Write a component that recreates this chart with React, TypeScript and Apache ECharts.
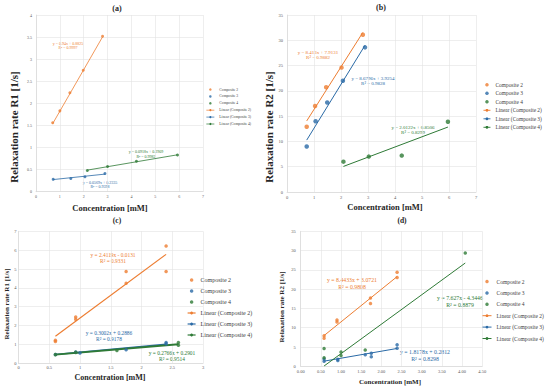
import React, { useEffect, useRef } from "react";
import * as echarts from "echarts";

// ---------- DATA ----------
const SCATTER_NAMES = ["Composite 2", "Composite 3", "Composite 4"];
const LINEAR_NAMES = ["Linear (Composite 2)", "Linear (Composite 3)", "Linear (Composite 4)"];

// Panel (a) – R1
const a2X = [0.7, 1.0, 1.42, 1.98, 2.79];
const a2Y = [1.56, 1.83, 2.24, 2.75, 3.52];
const a3X = [0.72, 1.46, 2.05, 2.89];
const a3Y = [0.28, 0.3, 0.34, 0.41];
const a4X = [2.15, 3.0, 4.21, 5.93];
const a4Y = [0.48, 0.57, 0.69, 0.83];
const aSlope = [0.94, 0.0569, 0.0918];
const aIntercept = [0.8825, 0.2335, 0.2909];
const aEq = ["y = 0.94x + 0.8825", "y = 0.0569x + 0.2335", "y = 0.0918x + 0.2909"];
const aR2 = ["R² = 0.9997", "R² = 0.9398", "R² = 0.9982"];

// Panel (b) – R2
const b2X = [0.73, 1.04, 1.45, 2.02, 2.81];
const b2Y = [12.9, 17.0, 20.7, 24.6, 31.1];
const b3X = [0.73, 1.06, 1.49, 2.07, 2.89];
const b3Y = [9.0, 14.0, 17.7, 22.0, 28.6];
const b4X = [2.09, 3.03, 4.25, 5.96];
const b4Y = [6.0, 7.0, 7.2, 13.9];
const bSlope = [8.413, 8.6796, 2.0122];
const bIntercept = [7.9131, 3.9254, 0.8506];
const bEq = ["y = 8.413x + 7.9131", "y = 8.6796x + 3.9254", "y = 2.0122x + 0.8506"];
const bR2 = ["R² = 0.9882", "R² = 0.9828", "R² = 0.8299"];

// Panel (c) – R1
const c2X = [0.6, 0.6, 0.93, 0.93, 1.75, 1.75, 2.4, 2.4];
const c2Y = [1.22, 1.16, 2.45, 2.33, 4.87, 4.25, 6.22, 4.87];
const c3X = [0.6, 0.93, 1.0, 1.75, 2.4, 2.4];
const c3Y = [0.47, 0.6, 0.55, 0.72, 1.1, 1.03];
const c4X = [0.6, 0.93, 1.6, 2.6, 2.6];
const c4Y = [0.46, 0.58, 0.68, 1.1, 0.96];
const cSlope = [2.4119, 0.3002, 0.2766];
const cIntercept = [-0.0131, 0.2886, 0.2901];
const cEq = ["y = 2.4119x - 0.0131", "y = 0.3002x + 0.2886", "y = 0.2766x + 0.2901"];
const cR2 = ["R² = 0.9331", "R² = 0.9178", "R² = 0.9514"];

// Panel (d) – R2
const d2X = [0.58, 0.58, 0.9, 0.9, 1.73, 1.73, 2.39, 2.39];
const d2Y = [7.9, 7.3, 12.0, 11.5, 17.7, 16.3, 24.4, 23.0];
const d3X = [0.58, 0.58, 0.92, 0.92, 1.6, 1.75, 1.75, 2.39, 2.39];
const d3Y = [1.9, 1.3, 1.8, 1.5, 3.0, 3.4, 2.5, 5.6, 4.7];
const d4X = [0.58, 0.58, 1.0, 1.0, 1.6, 4.08];
const d4Y = [4.6, 2.2, 3.7, 2.8, 4.2, 29.4];
const dSlope = [8.4433, 1.8178, 7.627];
const dIntercept = [3.0721, 0.2812, -4.3446];
const dEq = ["y = 8.4433x + 3.0721", "y = 1.8178x + 0.2812", "y = 7.627x - 4.3446"];
const dR2 = ["R² = 0.9808", "R² = 0.8298", "R² = 0.8879"];

const PANEL_TITLES = ["(a)", "(b)", "(c)", "(d)"];
const Y_TITLES = [
  "Relaxation rate R1 [1/s]",
  "Relaxation rate R2 [1/s]",
  "Relaxation rate R1 [1/s]",
  "Relaxation rate R2 [1/s]",
];
const X_TITLE = "Concentration [mM]";

// ---------- STYLE / LAYOUT ----------
const COLORS = ["#ED7D31", "#2A6AA6", "#2E7A36"];
const FONT = "'Liberation Serif', 'Times New Roman', serif";

const panels = [
  {
    xs: [a2X, a3X, a4X], ys: [a2Y, a3Y, a4Y], slope: aSlope, icpt: aIntercept, eq: aEq, r2: aR2,
    grid: { left: 36, top: 15, width: 167, height: 176.7 },
    x: { min: 0, max: 7, interval: 1 }, y: { min: 0, max: 4, interval: 0.5 },
    tick: 4, xMargin: 3, yMargin: 4, sym: 3, lw: [0.8, 0.8, 0.8],
    legend: { left: 206, top: 87.5, itemWidth: 8, itemHeight: 2.5, itemGap: 2.9, fontSize: 3.7, lw: 0.7 },
    eqFont: 4, eqPos: [[68, 43], [100, 182], [146, 151.5]],
    title: [117, 8, 8], yt: [14, 127, 11], xt: [110, 208, 8.5],
  },
  {
    xs: [b2X, b3X, b4X], ys: [b2Y, b3Y, b4Y], slope: bSlope, icpt: bIntercept, eq: bEq, r2: bR2,
    grid: { left: 287, top: 15, width: 189, height: 177 },
    x: { min: 0, max: 7, interval: 1 }, y: { min: 0, max: 35, interval: 5 },
    tick: 4.5, xMargin: 3, yMargin: 4, sym: 4.5, lw: [1, 1, 1],
    legend: { left: 483, top: 82.3, itemWidth: 7, itemHeight: 3.5, itemGap: 3.5, fontSize: 5.4, lw: 0.9 },
    eqFont: 5, eqPos: [[318, 52], [373, 78], [413, 127]],
    title: [381, 7, 8], yt: [269, 127, 11], xt: [385, 207, 8.5],
  },
  {
    xs: [c2X, c3X, c4X], ys: [c2Y, c3Y, c4Y], slope: cSlope, icpt: cIntercept, eq: cEq, r2: cR2,
    grid: { left: 18.5, top: 231.3, width: 184.5, height: 132 },
    x: { min: 0, max: 3, interval: 0.5 }, y: { min: 0, max: 7, interval: 1 },
    tick: 4.5, xMargin: 2, yMargin: 2, sym: 3.5, lw: [1.2, 1.4, 1.8],
    legend: { left: 187, top: 277, itemWidth: 8, itemHeight: 3.5, itemGap: 5, fontSize: 6, lw: 1.2 },
    eqFont: 5.4, eqPos: [[113, 255], [109, 333], [172, 353]],
    title: [117, 220, 7.5], yt: [7, 304, 7], xt: [110, 377, 8],
  },
  {
    xs: [d2X, d3X, d4X], ys: [d2Y, d3Y, d4Y], slope: dSlope, icpt: dIntercept, eq: dEq, r2: dR2,
    grid: { left: 300.7, top: 231.3, width: 181.5, height: 135 },
    x: { min: 0, max: 4.5, interval: 0.5, fixed: 2 }, y: { min: 0, max: 35, interval: 5 },
    tick: 4.5, xMargin: 2.5, yMargin: 5, sym: 3.5, lw: [1, 1, 1],
    legend: { left: 482, top: 278.5, itemWidth: 9, itemHeight: 3.5, itemGap: 5.4, fontSize: 5.5, lw: 1 },
    eqFont: 5.8, eqPos: [[352, 280], [425, 352], [460, 298]],
    title: [402, 220, 7.5], yt: [282, 307, 7], xt: [390, 382, 7],
  },
];

function text(str: string, x: number, y: number, size: number, color: string, bold: boolean, rotate = 0) {
  return {
    type: "text",
    x, y, rotation: rotate,
    silent: true,
    style: {
      text: str, fontSize: size, fontFamily: FONT, fontWeight: bold ? "bold" : "normal",
      fill: color, align: "center", verticalAlign: "middle",
    },
  };
}

function buildOption() {
  const grid: any[] = [];
  const xAxis: any[] = [];
  const yAxis: any[] = [];
  const series: any[] = [];
  const legend: any[] = [];
  const graphic: any[] = [];

  panels.forEach((p, i) => {
    grid.push({ ...p.grid, containLabel: false });
    const common = (m: number) => ({
      gridIndex: i,
      type: "value",
      axisLine: { show: true, lineStyle: { color: "#d9d9d9", width: 0.7 } },
      axisTick: { show: false },
      splitLine: { show: true, lineStyle: { color: "#e2e2e2", width: 0.6 } },
      axisLabel: { fontSize: p.tick, color: "#595959", fontFamily: FONT, margin: m },
    });
    const xa: any = { ...common(p.xMargin), min: p.x.min, max: p.x.max, interval: p.x.interval };
    if ((p.x as any).fixed) {
      xa.axisLabel = { ...xa.axisLabel, formatter: (v: number) => v.toFixed((p.x as any).fixed) };
    }
    xAxis.push(xa);
    yAxis.push({ ...common(p.yMargin), min: p.y.min, max: p.y.max, interval: p.y.interval });

    for (let k = 0; k < 3; k++) {
      const xsArr = p.xs[k];
      const ysArr = p.ys[k];
      series.push({
        type: "scatter",
        name: SCATTER_NAMES[k],
        xAxisIndex: i, yAxisIndex: i,
        symbol: "circle",
        symbolSize: p.sym,
        itemStyle: { color: COLORS[k] },
        data: xsArr.map((x, j) => [x, ysArr[j]]),
        z: 3,
      });
      const xmin = Math.min(...xsArr);
      const xmax = Math.max(...xsArr);
      series.push({
        type: "line",
        name: LINEAR_NAMES[k],
        xAxisIndex: i, yAxisIndex: i,
        symbol: "none",
        lineStyle: { color: COLORS[k], width: p.lw[k] },
        itemStyle: { color: COLORS[k] },
        data: [
          [xmin, p.slope[k] * xmin + p.icpt[k]],
          [xmax, p.slope[k] * xmax + p.icpt[k]],
        ],
        z: 2,
      });
      const [ex, ey] = p.eqPos[k];
      graphic.push(text(p.eq[k], ex, ey, p.eqFont, COLORS[k], false));
      graphic.push(text(p.r2[k], ex, ey + p.eqFont * 1.15, p.eqFont, COLORS[k], false));
    }

    legend.push({
      orient: "vertical",
      left: p.legend.left,
      top: p.legend.top,
      itemWidth: p.legend.itemWidth,
      itemHeight: p.legend.itemHeight,
      itemGap: p.legend.itemGap,
      padding: 0,
      selectedMode: false,
      lineStyle: { width: p.legend.lw },
      textStyle: { fontSize: p.legend.fontSize, fontFamily: FONT, color: "#404040" },
      data: [
        ...SCATTER_NAMES.map((n) => ({ name: n, icon: "circle" })),
        ...LINEAR_NAMES.map((n) => ({ name: n })),
      ],
    });

    graphic.push(text(PANEL_TITLES[i], p.title[0], p.title[1], p.title[2], "#262626", true));
    graphic.push(text(Y_TITLES[i], p.yt[0], p.yt[1], p.yt[2], "#262626", true, Math.PI / 2));
    graphic.push(text(X_TITLE, p.xt[0], p.xt[1], p.xt[2], "#262626", true));
  });

  return {
    animation: false,
    backgroundColor: "#ffffff",
    grid, xAxis, yAxis, series, legend, graphic,
  };
}

export default function App() {
  const ref = useRef<HTMLDivElement>(null);
  useEffect(() => {
    if (!ref.current) return;
    const chart = echarts.init(ref.current, null, { renderer: "svg" });
    chart.setOption(buildOption() as any);
    return () => chart.dispose();
  }, []);
  return (
    <div
      ref={ref}
      style={{ position: "fixed", left: 0, top: 0, width: 550, height: 388, background: "#fff" }}
    />
  );
}
